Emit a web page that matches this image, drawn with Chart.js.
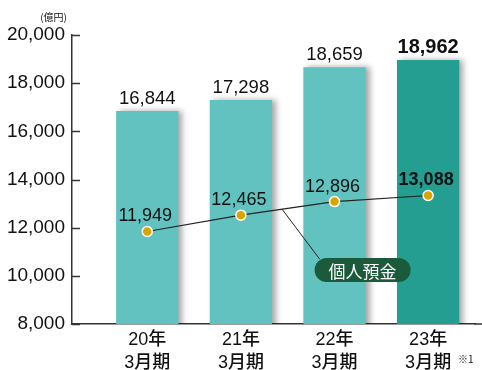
<!DOCTYPE html>
<html lang="ja">
<head>
<meta charset="utf-8">
<script src="https://cdn.jsdelivr.net/npm/chart.js@4/dist/chart.umd.min.js"></script>
<style>
  html, body { margin: 0; padding: 0; background: #ffffff; }
  #wrap { width: 482px; height: 370px; position: relative; }
</style>
</head>
<body>
<div id="wrap"><canvas id="depositChart"></canvas></div>
<script>
// Chart data
const periods = [['20年', '3月期'], ['21年', '3月期'], ['22年', '3月期'], ['23年', '3月期']];
const totalDeposits = [16844, 17298, 18659, 18962];
const personalDeposits = [11949, 12465, 12896, 13088];
const yTicks = [8000, 10000, 12000, 14000, 16000, 18000, 20000];
const unitLabel = '(億円)';
const noteLabel = '※1';
const seriesName = '個人預金';

const FONT = "'Liberation Sans', Arial, 'Noto Sans CJK JP', sans-serif";
const theme = {
    bar: '#62C2BF',
    barLatest: '#239E91',
    line: '#222222',
    point: '#D9A300',
    axis: '#333333',
    text: '#111111',
    callout: '#1B5B3B'
};

// value labels, inward y ticks, callout and notes
const decorations = {
    id: 'decorations',
    beforeDatasetDraw(chart, args) {
        if (args.meta.type === 'bar') {
            const ctx = chart.ctx;
            ctx.save();
            ctx.shadowColor = 'rgba(0,0,0,0.35)';
            ctx.shadowBlur = 6;
            ctx.shadowOffsetX = 4;
            ctx.shadowOffsetY = 0;
        }
    },
    afterDatasetDraw(chart, args) {
        if (args.meta.type === 'bar') chart.ctx.restore();
    },
    afterDraw(chart) {
        const ctx = chart.ctx;
        const area = chart.chartArea;
        const y = chart.scales.y;
        const x = chart.scales.x;
        const last = periods.length - 1;

        ctx.save();
        // inward tick marks and axis line carried to the right edge
        ctx.strokeStyle = theme.axis;
        ctx.lineWidth = 1.5;
        yTicks.forEach(v => {
            const py = Math.round(y.getPixelForValue(v)) + 0.5;
            ctx.beginPath();
            ctx.moveTo(area.left, py);
            ctx.lineTo(area.left + 8, py);
            ctx.stroke();
        });
        const by = y.getPixelForValue(yTicks[0]);
        ctx.beginPath();
        ctx.moveTo(area.right - 1, by);
        ctx.lineTo(chart.width, by);
        ctx.stroke();

        // bar value labels
        ctx.fillStyle = theme.text;
        ctx.textAlign = 'center';
        ctx.textBaseline = 'bottom';
        chart.getDatasetMeta(1).data.forEach((el, i) => {
            ctx.font = i === last ? `bold 20px ${FONT}` : `18.5px ${FONT}`;
            ctx.fillText(totalDeposits[i].toLocaleString('en-US'), el.x, el.y - 3);
        });

        // line value labels
        const pts = chart.getDatasetMeta(0).data;
        pts.forEach((el, i) => {
            ctx.font = i === last ? `bold 18px ${FONT}` : `18px ${FONT}`;
            ctx.fillText(personalDeposits[i].toLocaleString('en-US'), el.x - 2, el.y - 6);
        });

        // callout with leader line
        const t = 0.44;
        const ax = pts[1].x + (pts[2].x - pts[1].x) * t;
        const ay = pts[1].y + (pts[2].y - pts[1].y) * t;
        const cx = x.getPixelForValue(2.3);
        const cy = y.getPixelForValue(10240);
        const w = 96, h = 24;
        ctx.strokeStyle = '#222';
        ctx.lineWidth = 1;
        ctx.beginPath();
        ctx.moveTo(ax, ay);
        ctx.lineTo(cx - w / 2 + 5, cy - h / 2 + 1);
        ctx.stroke();
        ctx.fillStyle = theme.callout;
        ctx.beginPath();
        ctx.roundRect(cx - w / 2, cy - h / 2, w, h, h / 2);
        ctx.fill();
        ctx.fillStyle = '#ffffff';
        ctx.font = `17px 'Noto Sans CJK JP', sans-serif`;
        ctx.textBaseline = 'middle';
        ctx.fillText(seriesName, cx, cy + 1);

        // unit and footnote
        ctx.fillStyle = theme.text;
        ctx.font = `10px 'Noto Sans CJK JP', sans-serif`;
        ctx.textAlign = 'right';
        ctx.fillText(unitLabel, area.left - 5, 17);
        ctx.textAlign = 'left';
        ctx.fillText(noteLabel, 458, 359);
        ctx.restore();
    }
};

const ctx = document.getElementById('depositChart');

new Chart(ctx, {
    data: {
        datasets: [
            {
                type: 'line',
                label: seriesName,
                data: personalDeposits.map((v, i) => ({ x: i, y: v })),
                yAxisID: 'y2',
                order: 0,
                borderColor: theme.line,
                borderWidth: 1.2,
                tension: 0,
                pointRadius: 5,
                pointBackgroundColor: theme.point,
                pointBorderColor: '#ffffff',
                pointBorderWidth: 1.5
            },
            {
                type: 'bar',
                label: '預金残高',
                data: totalDeposits.map((v, i) => ({ x: i, y: v })),
                yAxisID: 'y',
                order: 1,
                backgroundColor: totalDeposits.map((v, i) => i === periods.length - 1 ? theme.barLatest : theme.bar),
                borderWidth: 0,
                barPercentage: 0.665,
                categoryPercentage: 1
            }
        ]
    },
    options: {
        responsive: true,
        maintainAspectRatio: false,
        animation: false,
        layout: { padding: { top: 35, right: 0, left: 0, bottom: 0 } },
        plugins: {
            legend: { display: false },
            tooltip: { enabled: false }
        },
        scales: {
            x: {
                type: 'linear',
                offset: false,
                min: -0.804,
                max: 3.506,
                grid: { display: false, drawTicks: false },
                border: { display: true, color: theme.axis, width: 1.5 },
                afterBuildTicks: scale => {
                    scale.ticks = periods.map((p, i) => ({ value: i }));
                },
                afterFit: scale => { scale.height = 46; },
                ticks: {
                    autoSkip: false,
                    maxRotation: 0,
                    padding: 4,
                    color: theme.text,
                    font: { family: FONT, size: 18, weight: '500', lineHeight: 1.3 },
                    callback: value => periods[value] || ''
                }
            },
            y: {
                min: 8000,
                max: 20000,
                afterBuildTicks: scale => {
                    scale.ticks = yTicks.map(v => ({ value: v }));
                },
                afterFit: scale => { scale.width = 72; },
                grid: { display: false, drawTicks: false },
                border: { display: true, color: theme.axis, width: 1.5 },
                ticks: {
                    padding: 7,
                    color: theme.text,
                    font: { family: FONT, size: 19 },
                    callback: value => value.toLocaleString('en-US')
                }
            },
            y2: {
                display: false,
                min: 9020,
                max: 18170
            }
        }
    },
    plugins: [decorations]
});
</script>
</body>
</html>
